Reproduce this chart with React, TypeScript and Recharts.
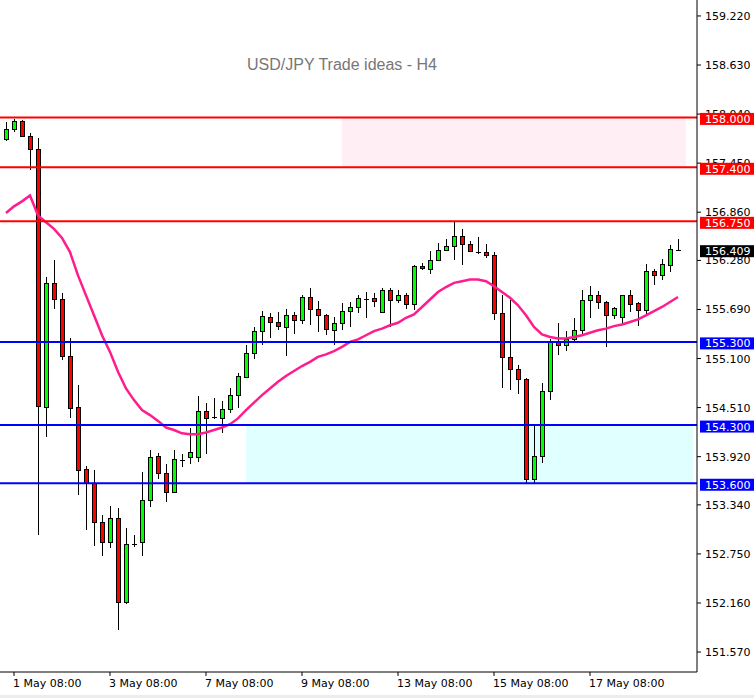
import React from "react";
import {
  ComposedChart,
  Bar,
  Line,
  XAxis,
  YAxis,
  ReferenceLine,
  ReferenceArea
} from "recharts";

// H4 candles
const opens = [
  157.74, 157.86, 157.96, 157.78, 157.62, 154.52, 156.01, 155.81, 155.13, 154.52,
  153.77, 153.6, 153.13, 152.89, 153.18, 152.17, 152.86, 152.89, 153.4, 153.93,
  153.72, 153.49, 153.88, 153.91, 153.91, 154.47, 154.39, 154.39, 154.49, 154.66,
  154.88, 155.17, 155.43, 155.6, 155.54, 155.48, 155.62, 155.56, 155.84, 155.69,
  155.62, 155.44, 155.53, 155.67, 155.72, 155.81, 155.83, 155.66, 155.92, 155.8,
  155.87, 155.75, 156.21, 156.18, 156.28, 156.4, 156.45, 156.57, 156.48, 156.38,
  156.38, 156.35, 155.65, 155.12, 154.97, 154.85, 153.65, 153.93, 154.71, 155.3,
  155.26, 155.34, 155.44, 155.8, 155.86, 155.78, 155.62, 155.6, 155.86, 155.77,
  155.68, 156.15, 156.1, 156.22, 156.41
];
const highs = [
  157.94, 157.98, 157.97, 157.81, 157.75, 156.08, 156.28, 155.89, 155.35, 154.78,
  153.81, 153.76, 153.22, 153.33, 153.3, 153.06, 152.98, 153.73, 154.0, 153.96,
  153.83, 154.0, 153.95, 154.27, 154.65, 154.56, 154.62, 154.59, 154.74, 154.92,
  155.26, 155.48, 155.67, 155.65, 155.66, 155.69, 155.66, 155.87, 155.95, 155.79,
  155.63, 155.6, 155.77, 155.78, 155.86, 155.9, 155.89, 155.95, 155.95, 155.92,
  155.89, 156.22, 156.25, 156.39, 156.49, 156.54, 156.75, 156.66, 156.51, 156.56,
  156.48, 156.38, 155.87, 155.8, 155.02, 154.86, 154.29, 154.8, 155.34, 155.53,
  155.43, 155.59, 155.92, 155.97, 155.91, 155.79, 155.72, 155.87, 155.93, 155.78,
  156.24, 156.18, 156.3, 156.46, 156.54
];
const lows = [
  157.72, 157.82, 157.76, 157.37, 152.98, 154.16, 155.69, 155.08, 154.38, 153.46,
  153.04, 152.84, 152.72, 152.82, 151.83, 152.15, 152.83, 152.73, 153.31, 153.65,
  153.38, 153.48, 153.79, 153.83, 153.85, 153.95, 154.37, 154.21, 154.44, 154.5,
  154.86, 155.09, 155.26, 155.35, 155.44, 155.13, 155.4, 155.52, 155.5, 155.42,
  155.38, 155.26, 155.44, 155.48, 155.65, 155.59, 155.72, 155.65, 155.48, 155.77,
  155.69, 155.68, 156.16, 156.12, 156.27, 156.39, 156.28, 156.22, 156.38, 156.36,
  156.31, 155.56, 154.75, 154.72, 154.67, 153.6, 153.6, 153.84, 154.6, 155.14,
  155.19, 155.3, 155.4, 155.59, 155.69, 155.24, 155.57, 155.5, 155.66, 155.49,
  155.63, 155.98, 156.04, 156.14, 156.39
];
const closes = [
  157.86, 157.96, 157.78, 157.62, 154.53, 156.01, 155.81, 155.13, 154.5, 153.76,
  153.6, 153.13, 152.89, 153.18, 152.17, 152.87, 152.87, 153.4, 153.91, 153.72,
  153.49, 153.89, 153.87, 153.97, 154.47, 154.39, 154.4, 154.49, 154.66, 154.89,
  155.17, 155.43, 155.61, 155.54, 155.49, 155.62, 155.56, 155.84, 155.69, 155.62,
  155.45, 155.53, 155.67, 155.72, 155.83, 155.82, 155.79, 155.92, 155.8, 155.87,
  155.75, 156.21, 156.19, 156.28, 156.4, 156.45, 156.57, 156.48, 156.39, 156.37,
  156.35, 155.65, 155.12, 154.97, 154.85, 153.65, 153.93, 154.71, 155.3, 155.26,
  155.34, 155.44, 155.8, 155.86, 155.78, 155.62, 155.71, 155.86, 155.75, 155.68,
  156.15, 156.1, 156.24, 156.42, 156.41
];
// pink moving average
const ma = [
  156.85, 156.93, 156.99, 157.06, 156.82, 156.74, 156.66, 156.55, 156.38, 156.1,
  155.86, 155.62, 155.38, 155.18, 154.94, 154.74, 154.6, 154.48, 154.42, 154.35,
  154.27, 154.24, 154.2, 154.19, 154.19, 154.21, 154.24, 154.27, 154.31, 154.38,
  154.48, 154.57, 154.66, 154.74, 154.82, 154.89, 154.95, 155.01, 155.06, 155.12,
  155.15, 155.19, 155.24, 155.3, 155.33, 155.38, 155.43, 155.46, 155.5, 155.53,
  155.59, 155.63, 155.72, 155.81, 155.9, 155.96, 156.01, 156.03, 156.05, 156.05,
  156.03, 155.97, 155.9, 155.83, 155.74, 155.62, 155.48, 155.39, 155.36, 155.34,
  155.34, 155.36, 155.38, 155.41, 155.44, 155.46, 155.49, 155.51, 155.54, 155.57,
  155.62, 155.67, 155.72, 155.78, 155.84
];

const timeTicks = [1, 13, 25, 37, 49, 61, 73];
const timeLabels = [
  "1 May 08:00",
  "3 May 08:00",
  "7 May 08:00",
  "9 May 08:00",
  "13 May 08:00",
  "15 May 08:00",
  "17 May 08:00"
];
const priceTicks = [
  159.22, 158.63, 158.04, 157.45, 156.86, 156.28, 155.69, 155.1, 154.51, 153.92,
  153.34, 152.75, 152.16, 151.57
];
const resistance = [158.0, 157.4, 156.75];
const support = [155.3, 154.3, 153.6];
const lastPrice = 156.409;
// zones: [from bar, to bar, low, high]
const sellZone = [42, 85, 157.4, 158.0];
const buyZone = [30, 85.9, 153.6, 154.3];

const PRICE_DOMAIN = [151.33, 159.412];

const data = opens.map((o, i) => ({
  i,
  o,
  h: highs[i],
  l: lows[i],
  c: closes[i],
  ma: ma[i]
}));

const FONT = "DejaVu Sans";

function Candle(props: any) {
  const { x, y, width, height, payload } = props;
  const { o, h, l, c } = payload;
  const k = height / (h - l);
  const cx = Math.round(x + width / 2) + 0.5;
  const yo = y + (h - o) * k;
  const yc = y + (h - c) * k;
  const top = Math.round(Math.min(yo, yc)) + 0.5;
  const bot = Math.round(Math.max(yo, yc)) + 0.5;
  const fill = c > o ? "#00FF00" : "#FF0000";
  return (
    <g>
      <line x1={cx} x2={cx} y1={Math.round(y)} y2={Math.round(y + height)} stroke="#000" strokeWidth={1} />
      {bot - top < 1.5 ? (
        <line x1={cx - 2.5} x2={cx + 2.5} y1={top} y2={top} stroke="#000" strokeWidth={1} />
      ) : (
        <rect x={cx - 2} y={top} width={4} height={bot - top} fill={fill} stroke="#000" strokeWidth={1} />
      )}
    </g>
  );
}

// coloured price boxes on the right scale, drawn by a second axis so they sit on top
function TagTick(props: any) {
  const { y, payload } = props;
  const v = payload.value;
  const fill = resistance.includes(v) ? "#FF0000" : support.includes(v) ? "#0000FF" : "#000";
  return (
    <g>
      <rect x={700} y={y - 4.5} width={56} height={12} fill={fill} />
      <text x={705} y={y + 5.5} fontSize={11} fontFamily={FONT} fill="#fff">
        {v.toFixed(3)}
      </text>
    </g>
  );
}

function YTick(props: any) {
  const { y, payload } = props;
  return (
    <text x={705} y={y + 4} fontSize={11} fontFamily={FONT} fill="#000">
      {payload.value.toFixed(3)}
    </text>
  );
}

function XTick(props: any) {
  const { x, payload } = props;
  const idx = timeTicks.indexOf(payload.value);
  return (
    <text x={x - 1} y={687} fontSize={11} fontFamily={FONT} fill="#000">
      {timeLabels[idx]}
    </text>
  );
}

export default function App() {
  return (
    <div style={{ position: "absolute", left: 0, top: 0, width: 754, height: 698, background: "#fff" }}>
      <ComposedChart width={754} height={698} data={data} margin={{ top: 0, right: 0, bottom: 0, left: 0 }}>
        <XAxis
          type="number"
          dataKey="i"
          domain={[-0.75, 86.375]}
          allowDataOverflow
          ticks={timeTicks}
          interval={0}
          tick={<XTick />}
          height={26}
          tickSize={4}
          stroke="#000"
        />
        <YAxis
          orientation="right"
          type="number"
          domain={PRICE_DOMAIN}
          allowDataOverflow
          ticks={priceTicks}
          interval={0}
          tick={<YTick />}
          width={56}
          tickSize={4}
          stroke="#000"
        />
        <YAxis
          yAxisId="tags"
          orientation="right"
          type="number"
          domain={PRICE_DOMAIN}
          allowDataOverflow
          ticks={[...resistance, ...support, lastPrice]}
          interval={0}
          tick={<TagTick />}
          width={1}
          axisLine={false}
          tickLine={false}
        />
        <ReferenceArea
          x1={sellZone[0]}
          x2={sellZone[1]}
          y1={sellZone[2]}
          y2={sellZone[3]}
          fill="#FFEEF3"
          fillOpacity={1}
          stroke="none"
        />
        <ReferenceArea
          x1={buyZone[0]}
          x2={buyZone[1]}
          y1={buyZone[2]}
          y2={buyZone[3]}
          fill="#E0FFFF"
          fillOpacity={1}
          stroke="none"
        />
        <Bar
          dataKey={(d: any) => [d.l, d.h]}
          barSize={5}
          shape={<Candle />}
          isAnimationActive={false}
        />
        <Line
          dataKey="ma"
          type="linear"
          stroke="#FF1C8D"
          strokeWidth={2.5}
          dot={false}
          activeDot={false}
          isAnimationActive={false}
        />
        {resistance.map((v) => (
          <ReferenceLine key={"r" + v} y={v} stroke="#FF0000" strokeWidth={2} />
        ))}
        {support.map((v) => (
          <ReferenceLine key={"s" + v} y={v} stroke="#0000FF" strokeWidth={2} />
        ))}
      </ComposedChart>
      <div
        style={{
          position: "absolute",
          left: 0,
          width: 684,
          top: 57,
          textAlign: "center",
          fontFamily: "Liberation Sans",
          fontSize: 16,
          lineHeight: "16px",
          color: "#777"
        }}
      >
        USD/JPY Trade ideas - H4
      </div>
      <div style={{ position: "absolute", left: 0, top: 695, width: 754, height: 3, background: "#EDEDED" }} />
    </div>
  );
}
